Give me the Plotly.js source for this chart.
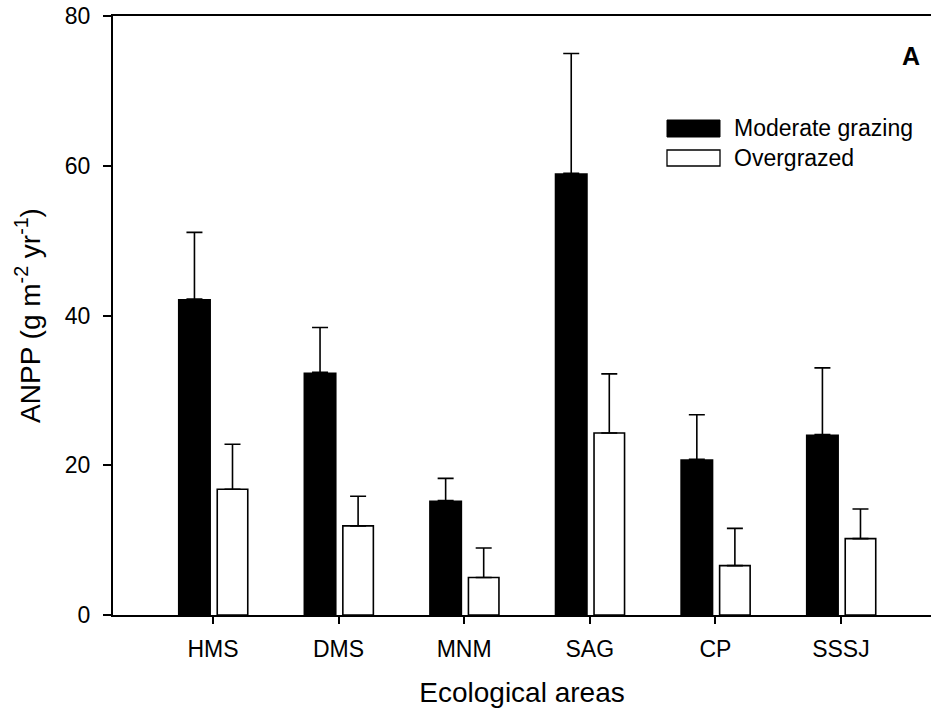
<!DOCTYPE html>
<html>
<head>
<meta charset="utf-8">
<script src="https://cdn.plot.ly/plotly-3.0.1.min.js"></script>
<style>
  html, body { margin: 0; padding: 0; background: #fff; }
  #chart { width: 931px; height: 719px; }
</style>
</head>
<body>
<div id="chart"></div>
<script>
// Ecological areas on the x axis
const areas = ["HMS", "DMS", "MNM", "SAG", "CP", "SSSJ"];

// Mean ANPP (g m-2 yr-1) and standard errors
const moderateMean = [42.2, 32.4, 15.3, 59.0, 20.8, 24.1];
const moderateSE   = [8.9, 6.0, 2.95, 16.0, 5.95, 8.9];
const overgrazedMean = [16.8, 11.9, 5.0, 24.3, 6.6, 10.2];
const overgrazedSE   = [6.0, 3.95, 3.95, 7.9, 4.97, 3.95];

const seriesNames = ["Moderate grazing", "Overgrazed"];
const yTicks = [0, 20, 40, 60, 80];

const FONT = "Liberation Sans, Arial, Helvetica, sans-serif";
const W = 931, H = 719;
const M = { l: 113, r: 0, t: 16, b: 104 };
const plotW = W - M.l - M.r, plotH = H - M.t - M.b;
// pixel -> paper helpers for the legend keys
const px = v => (v - M.l) / plotW;
const py = v => (H - M.b - v) / plotH;

const zeros = areas.map(() => 0);
const xIdx = areas.map((_, i) => i);

const traces = [
  {
    type: "bar", name: seriesNames[0], x: xIdx, y: moderateMean,
    offset: -0.279, width: 0.263,
    marker: { color: "#000000", line: { color: "#000000", width: 0 } },
    error_y: { type: "data", symmetric: false, array: moderateSE, arrayminus: zeros,
               color: "#000000", thickness: 1.6, width: 8 },
    showlegend: false, hoverinfo: "skip"
  },
  {
    type: "bar", name: seriesNames[1], x: xIdx, y: overgrazedMean,
    offset: 0.034, width: 0.243,
    marker: { color: "#ffffff", line: { color: "#000000", width: 1.6 } },
    error_y: { type: "data", symmetric: false, array: overgrazedSE, arrayminus: zeros,
               color: "#000000", thickness: 1.6, width: 8 },
    showlegend: false, hoverinfo: "skip"
  }
];

const layout = {
  width: W, height: H,
  margin: M,
  paper_bgcolor: "#ffffff", plot_bgcolor: "#ffffff",
  font: { family: FONT, color: "#000000", size: 23 },
  barmode: "overlay",
  showlegend: false,
  xaxis: {
    range: [-0.796, 5.717],
    tickmode: "array", tickvals: xIdx, ticktext: areas,
    ticks: "outside", ticklen: 7, tickwidth: 2, tickcolor: "#000",
    ticklabelstandoff: 5,
    showline: true, linecolor: "#000", linewidth: 2, mirror: true,
    showgrid: false, zeroline: false,
    tickfont: { family: FONT, size: 23 },
    title: { text: "Ecological areas", font: { family: FONT, size: 28 }, standoff: 22 }
  },
  yaxis: {
    range: [0, 80],
    tickmode: "array", tickvals: yTicks,
    ticks: "outside", ticklen: 8, tickwidth: 2, tickcolor: "#000",
    ticklabelstandoff: 8,
    showline: true, linecolor: "#000", linewidth: 2,
    showgrid: false, zeroline: false,
    tickfont: { family: FONT, size: 23 },
    title: { text: "ANPP (g m<sup>-2</sup> yr<sup>-1</sup>)", font: { family: FONT, size: 28 }, standoff: 16 }
  },
  shapes: [
    { type: "rect", xref: "paper", yref: "paper",
      x0: px(667), x1: px(720), y0: py(137), y1: py(120),
      fillcolor: "#000", line: { color: "#000", width: 1 } },
    { type: "rect", xref: "paper", yref: "paper",
      x0: px(667), x1: px(720), y0: py(166), y1: py(150),
      fillcolor: "#fff", line: { color: "#000", width: 1.3 } }
  ],
  annotations: [
    { xref: "paper", yref: "paper", x: px(732), y: py(128), xanchor: "left", yanchor: "middle",
      text: seriesNames[0], showarrow: false, font: { family: FONT, size: 23 } },
    { xref: "paper", yref: "paper", x: px(732), y: py(158), xanchor: "left", yanchor: "middle",
      text: seriesNames[1], showarrow: false, font: { family: FONT, size: 23 } },
    { xref: "paper", yref: "paper", x: px(922), y: py(56), xanchor: "right", yanchor: "middle",
      text: "<b>A</b>", showarrow: false, font: { family: FONT, size: 25 } }
  ]
};

Plotly.newPlot("chart", traces, layout, { staticPlot: true, displayModeBar: false });
</script>
</body>
</html>
